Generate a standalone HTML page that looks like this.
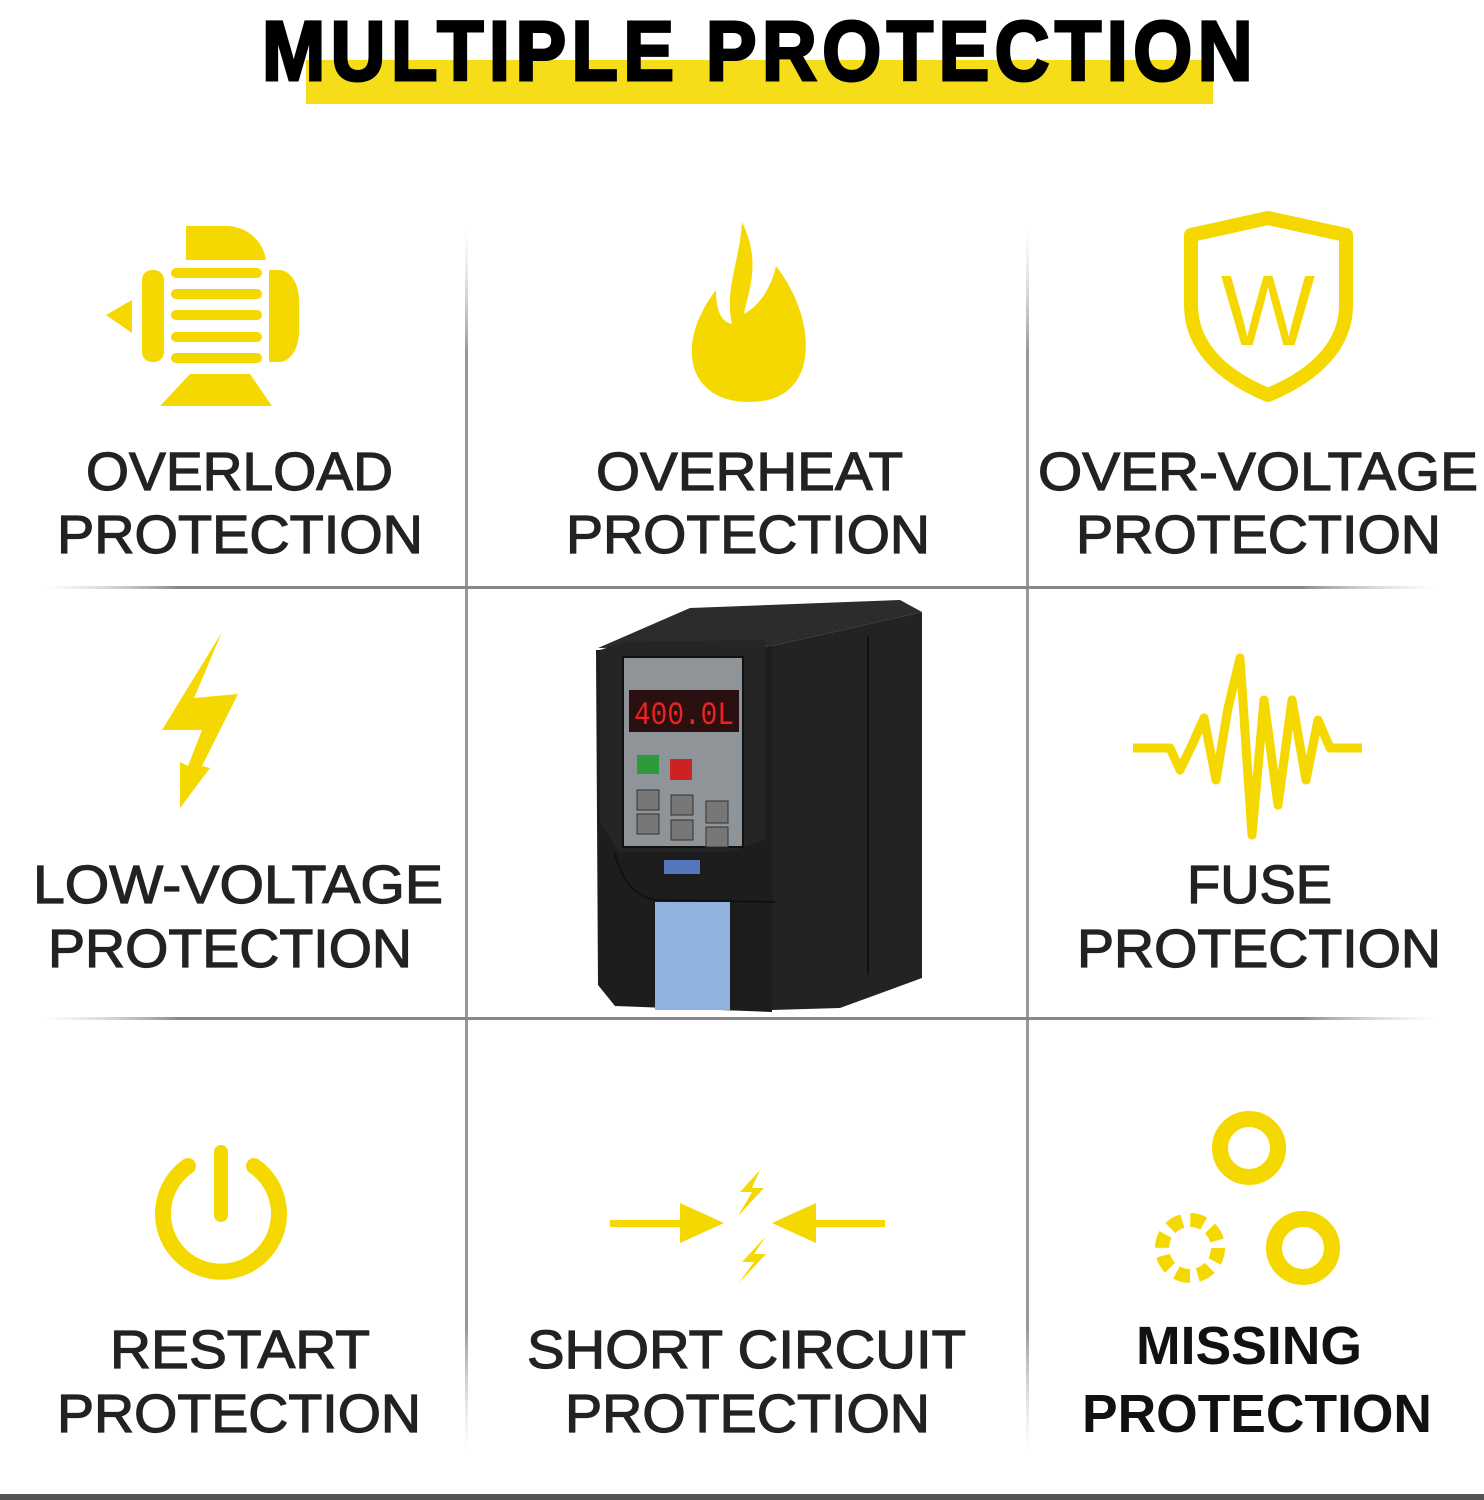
<!DOCTYPE html>
<html><head><meta charset="utf-8"><style>
html,body{margin:0;padding:0;background:#fff;}
svg{display:block}
.l{font-family:"Liberation Sans",sans-serif;font-size:54px;fill:#222;stroke:#222;stroke-width:1.2px;}
.b{font-family:"Liberation Sans",sans-serif;font-size:54px;fill:#111;font-weight:bold;}
</style></head><body>
<svg width="1484" height="1500" viewBox="0 0 1484 1500" xmlns="http://www.w3.org/2000/svg">
<defs>
<linearGradient id="gv" x1="0" y1="0" x2="0" y2="1">
<stop offset="0" stop-color="#ccc" stop-opacity="0"/><stop offset="0.1" stop-color="#999"/><stop offset="0.9" stop-color="#999"/><stop offset="1" stop-color="#ccc" stop-opacity="0"/></linearGradient>
<linearGradient id="gh" x1="0" y1="0" x2="1" y2="0">
<stop offset="0" stop-color="#ccc" stop-opacity="0"/><stop offset="0.1" stop-color="#888"/><stop offset="0.9" stop-color="#888"/><stop offset="1" stop-color="#ccc" stop-opacity="0"/></linearGradient>
</defs>
<rect width="1484" height="1500" fill="#fff"/>
<!-- title -->
<rect x="306" y="60" width="907" height="44" fill="#f6dd1a"/>
<text x="262" y="80" textLength="996" lengthAdjust="spacingAndGlyphs" font-family="Liberation Sans,sans-serif" font-weight="bold" font-size="84" fill="#000" stroke="#000" stroke-width="3" letter-spacing="6">MULTIPLE PROTECTION</text>
<!-- grid -->
<rect x="465" y="230" width="3" height="1220" fill="url(#gv)"/>
<rect x="1026" y="230" width="3" height="1220" fill="url(#gv)"/>
<rect x="40" y="586" width="1400" height="3" fill="url(#gh)"/>
<rect x="40" y="1017" width="1400" height="3" fill="url(#gh)"/>
<rect x="0" y="1494" width="1484" height="6" fill="#555"/>

<g fill="#f5d800">
<!-- motor -->
<path d="M186 226 h40 a40 40 0 0 1 40 34 h-80z"/>
<rect x="142" y="270" width="22" height="92" rx="10"/>
<path d="M269 270 h10 a20 30 0 0 1 20 30 v32 a20 30 0 0 1 -20 30 h-10z"/>
<rect x="171" y="268" width="91" height="10" rx="5"/>
<rect x="171" y="289" width="91" height="10" rx="5"/>
<rect x="171" y="310" width="91" height="10" rx="5"/>
<rect x="171" y="332" width="91" height="10" rx="5"/>
<rect x="171" y="353" width="91" height="10" rx="5"/>
<path d="M132 300 l-26 15 l26 18z"/>
<path d="M190 374 h60 l22 32 h-112z"/>
<!-- flame -->
<path d="M742 222 C762 262 748 292 744 314 C762 304 772 284 776 266 C802 300 812 340 802 370 C792 395 772 402 748 402 C718 402 694 386 692 356 C690 330 704 306 716 290 C716 312 722 322 732 324 C724 290 740 260 742 222z"/>
<!-- lightning -->
<path d="M222 632 l-60 98 l40 0 l-14 36 l-8 -4 l0 46 l30 -40 l-8 -2 l36 -72 l-44 4z"/>
</g>
<!-- shield -->
<path d="M1191 235 l77 -17 l78 17 v70 c0 40 -30 70 -78 90 c-48 -20 -77 -50 -77 -90z" fill="none" stroke="#f5d800" stroke-width="14" stroke-linejoin="round"/>
<text x="1268" y="345" text-anchor="middle" font-family="Liberation Sans,sans-serif" font-size="100" fill="#f5d800">W</text>
<!-- pulse -->
<polyline points="1133,748 1170,748 1180,770 1192,745 1204,718 1216,780 1228,708 1240,658 1252,835 1264,700 1278,805 1292,700 1306,780 1318,720 1330,748 1362,748" fill="none" stroke="#f5d800" stroke-width="9" stroke-linejoin="round"/>
<!-- power -->
<path d="M188 1166 a58 58 0 1 0 66 0" fill="none" stroke="#f5d800" stroke-width="16" stroke-linecap="round"/>
<line x1="221" y1="1152" x2="221" y2="1215" stroke="#f5d800" stroke-width="14" stroke-linecap="round"/>
<!-- short circuit -->
<g fill="#f5d800">
<rect x="610" y="1220" width="82" height="7"/>
<path d="M680 1203 l44 20 l-44 20z"/>
<rect x="800" y="1220" width="85" height="7"/>
<path d="M816 1203 l-44 20 l44 20z"/>
<path d="M760 1170 l-20 22 l12 0 l-14 24 l26 -28 l-12 0z"/>
<path d="M766 1236 l-24 26 l12 0 l-16 22 l28 -30 l-12 0z"/>
</g>
<!-- missing -->
<circle cx="1249" cy="1148" r="29" fill="none" stroke="#f5d800" stroke-width="16"/>
<circle cx="1303" cy="1248" r="29" fill="none" stroke="#f5d800" stroke-width="16"/>
<circle cx="1190" cy="1248" r="28" fill="none" stroke="#f5d800" stroke-width="14" stroke-dasharray="14 8"/>

<!-- labels -->
<text class="l" x="86" y="490" textLength="307" lengthAdjust="spacingAndGlyphs">OVERLOAD</text>
<text class="l" x="57" y="553" textLength="366" lengthAdjust="spacingAndGlyphs">PROTECTION</text>
<text class="l" x="596" y="490" textLength="307" lengthAdjust="spacingAndGlyphs">OVERHEAT</text>
<text class="l" x="566" y="553" textLength="364" lengthAdjust="spacingAndGlyphs">PROTECTION</text>
<text class="l" x="1038" y="490" textLength="440" lengthAdjust="spacingAndGlyphs">OVER-VOLTAGE</text>
<text class="l" x="1076" y="553" textLength="365" lengthAdjust="spacingAndGlyphs">PROTECTION</text>
<text class="l" x="33" y="903" textLength="410" lengthAdjust="spacingAndGlyphs">LOW-VOLTAGE</text>
<text class="l" x="48" y="967" textLength="364" lengthAdjust="spacingAndGlyphs">PROTECTION</text>
<text class="l" x="1187" y="903" textLength="145" lengthAdjust="spacingAndGlyphs">FUSE</text>
<text class="l" x="1077" y="967" textLength="364" lengthAdjust="spacingAndGlyphs">PROTECTION</text>
<text class="l" x="110" y="1368" textLength="260" lengthAdjust="spacingAndGlyphs">RESTART</text>
<text class="l" x="57" y="1432" textLength="364" lengthAdjust="spacingAndGlyphs">PROTECTION</text>
<text class="l" x="527" y="1368" textLength="439" lengthAdjust="spacingAndGlyphs">SHORT CIRCUIT</text>
<text class="l" x="565" y="1432" textLength="365" lengthAdjust="spacingAndGlyphs">PROTECTION</text>
<text class="b" x="1136" y="1364" textLength="226" lengthAdjust="spacingAndGlyphs">MISSING</text>
<text class="b" x="1082" y="1432" textLength="350" lengthAdjust="spacingAndGlyphs">PROTECTION</text>

<!-- device -->
<polygon points="598,648 690,608 900,600 922,612 772,646" fill="#2c2c2c"/>
<polygon points="772,646 922,612 922,978 840,1008 772,1010" fill="#232323"/>
<line x1="868" y1="636" x2="868" y2="975" stroke="#111" stroke-width="2"/>
<polygon points="596,650 772,646 772,1012 615,1006 598,985" fill="#1d1d1d"/>
<path d="M600 650 l25 -8 l140 -2 l0 200 l-35 12 l-112 0 l-18 -30z" fill="#252525"/>
<path d="M615 854 q10 40 40 46 l120 2" fill="none" stroke="#111" stroke-width="2"/>
<rect x="623" y="657" width="120" height="190" fill="#8f9498" stroke="#111" stroke-width="2"/>
<rect x="629" y="690" width="110" height="42" fill="#2a1010"/>
<text x="634" y="724" font-family="Liberation Mono,monospace" font-size="32" fill="#e22" textLength="100" lengthAdjust="spacingAndGlyphs">400.0L</text>
<rect x="637" y="755" width="22" height="19" fill="#2a9a3a"/>
<rect x="670" y="759" width="22" height="21" fill="#c22"/>
<g fill="#777" stroke="#333">
<rect x="637" y="790" width="22" height="20"/><rect x="671" y="795" width="22" height="20"/><rect x="706" y="801" width="22" height="22"/>
<rect x="637" y="814" width="22" height="20"/><rect x="671" y="820" width="22" height="20"/><rect x="706" y="827" width="22" height="20"/>
</g>
<rect x="664" y="860" width="36" height="14" fill="#5577bb"/>
<rect x="655" y="902" width="75" height="108" fill="#8fb2de"/>
</svg>
</body></html>
